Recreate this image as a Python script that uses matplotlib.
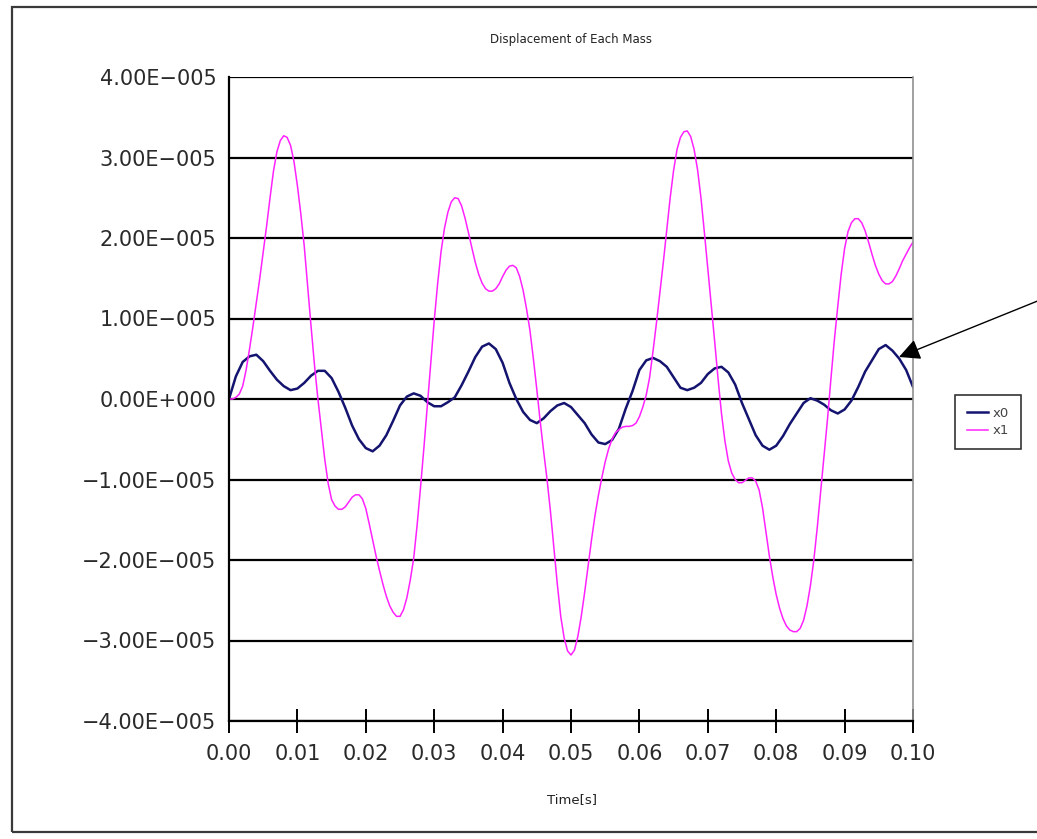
import numpy as np
import matplotlib
matplotlib.use("Agg")
import matplotlib.pyplot as plt
from matplotlib.patches import Rectangle

# displacement values in units of 1e-5 m
t0 = np.linspace(0, 0.1, 101)
x0 = [0.00, 0.28, 0.46, 0.53, 0.55, 0.47, 0.35, 0.24, 0.16, 0.11,
      0.13, 0.20, 0.29, 0.35, 0.35, 0.26, 0.09, -0.11, -0.33, -0.50,
      -0.61, -0.65, -0.58, -0.45, -0.27, -0.08, 0.03, 0.07, 0.04, -0.04,
      -0.09, -0.09, -0.04, 0.02, 0.17, 0.34, 0.52, 0.65, 0.69, 0.62,
      0.45, 0.20, 0.00, -0.16, -0.26, -0.30, -0.24, -0.15, -0.08, -0.05,
      -0.10, -0.20, -0.30, -0.44, -0.54, -0.56, -0.51, -0.37, -0.12, 0.10,
      0.36, 0.48, 0.51, 0.47, 0.40, 0.27, 0.14, 0.11, 0.14, 0.20,
      0.31, 0.38, 0.40, 0.33, 0.18, -0.05, -0.25, -0.45, -0.58, -0.63,
      -0.58, -0.46, -0.31, -0.18, -0.05, 0.01, -0.02, -0.07, -0.14, -0.18,
      -0.13, -0.02, 0.15, 0.34, 0.48, 0.62, 0.67, 0.60, 0.50, 0.36,
      0.15]

t1 = np.linspace(0, 0.1, 201)
x1 = [0.00, 0.00, 0.02, 0.06, 0.16, 0.36, 0.62, 0.90, 1.20, 1.50,
      1.82, 2.15, 2.50, 2.83, 3.07, 3.21, 3.27, 3.25, 3.15, 2.95,
      2.65, 2.30, 1.90, 1.40, 0.90, 0.42, 0.00, -0.38, -0.75, -1.05,
      -1.25, -1.33, -1.37, -1.37, -1.34, -1.28, -1.22, -1.19, -1.19, -1.24,
      -1.36, -1.55, -1.75, -1.95, -2.13, -2.30, -2.45, -2.57, -2.65, -2.70,
      -2.70, -2.62, -2.47, -2.25, -1.98, -1.57, -1.10, -0.60, -0.08, 0.45,
      0.97, 1.43, 1.83, 2.12, 2.32, 2.45, 2.50, 2.49, 2.40, 2.25,
      2.07, 1.88, 1.70, 1.55, 1.44, 1.37, 1.34, 1.34, 1.37, 1.43,
      1.52, 1.60, 1.65, 1.66, 1.63, 1.52, 1.35, 1.12, 0.85, 0.50,
      0.12, -0.28, -0.65, -1.00, -1.40, -1.85, -2.30, -2.70, -2.97, -3.13,
      -3.18, -3.12, -2.95, -2.70, -2.40, -2.07, -1.75, -1.45, -1.20, -0.98,
      -0.78, -0.62, -0.50, -0.42, -0.38, -0.35, -0.34, -0.34, -0.33, -0.30,
      -0.22, -0.10, 0.05, 0.27, 0.60, 0.95, 1.32, 1.70, 2.10, 2.50,
      2.84, 3.10, 3.25, 3.32, 3.33, 3.26, 3.10, 2.85, 2.50, 2.07,
      1.62, 1.17, 0.72, 0.25, -0.18, -0.52, -0.77, -0.92, -1.00, -1.04,
      -1.04, -1.01, -0.98, -0.98, -1.02, -1.13, -1.35, -1.65, -1.95, -2.21,
      -2.43, -2.60, -2.73, -2.82, -2.87, -2.89, -2.89, -2.85, -2.75, -2.57,
      -2.32, -2.00, -1.60, -1.15, -0.70, -0.25, 0.25, 0.73, 1.15, 1.55,
      1.87, 2.08, 2.19, 2.24, 2.24, 2.19, 2.09, 1.95, 1.80, 1.66,
      1.55, 1.47, 1.43, 1.43, 1.46, 1.53, 1.62, 1.72, 1.80, 1.88,
      1.95]

yticks = [-4e-5, -3e-5, -2e-5, -1e-5, 0, 1e-5, 2e-5, 3e-5, 4e-5]
ytick_labels = ["\u22124.00E\u2212005", "\u22123.00E\u2212005", "\u22122.00E\u2212005",
                "\u22121.00E\u2212005", "0.00E+000", "1.00E\u2212005", "2.00E\u2212005",
                "3.00E\u2212005", "4.00E\u2212005"]
xticks = [0.00, 0.01, 0.02, 0.03, 0.04, 0.05, 0.06, 0.07, 0.08, 0.09, 0.10]
xtick_labels = ["0.00", "0.01", "0.02", "0.03", "0.04", "0.05",
                "0.06", "0.07", "0.08", "0.09", "0.10"]

W, H = 1037, 839
fig = plt.figure(figsize=(W / 100, H / 100), dpi=100)
plt.rcParams['font.family'] = ['DejaVu Sans']

# outer chart frame
fig.patches.append(Rectangle((12 / W, 1 - 832 / H), (1050 - 12) / W, (832 - 7) / H,
                             transform=fig.transFigure, fill=False,
                             lw=1.6, ec='#3a3a3a'))

ax = fig.add_axes([229 / W, 1 - 721 / H, 684 / W, 644 / H])
ax.plot(t0, np.array(x0) * 1e-5, color='#141470', lw=1.8, label='x0')
ax.plot(t1, np.array(x1) * 1e-5, color='#ff22ff', lw=1.1, label='x1')

ax.set_xlim(0, 0.1)
ax.set_ylim(-4e-5, 4e-5)
ax.set_yticks(yticks)
ax.set_yticklabels(ytick_labels)
ax.set_xticks(xticks)
ax.set_xticklabels(xtick_labels)
ax.grid(axis='y', color='black', lw=1.6)
ax.tick_params(axis='y', length=0, pad=9, labelsize=15, labelcolor='#2a2a2a')
ax.tick_params(axis='x', direction='inout', length=17, width=1.4,
               pad=8, labelsize=15, labelcolor='#2a2a2a')
for side in ['left', 'bottom']:
    ax.spines[side].set_linewidth(1.6)
ax.spines['top'].set_visible(False)
ax.spines['right'].set_color('#909090')
ax.spines['right'].set_linewidth(1.2)

fig.text(571 / W, 1 - 40 / H, 'Displacement of Each Mass', ha='center',
         va='center', fontsize=8.5, color='#222222')
fig.text(572 / W, 1 - 800 / H, 'Time[s]', ha='center', va='center',
         fontsize=9.5, color='#222222')

leg = ax.legend(loc='center', bbox_to_anchor=(988 / W, 1 - 422 / H),
                bbox_transform=fig.transFigure, fontsize=9.5, frameon=True,
                fancybox=False, edgecolor='black', handlelength=1.6,
                handletextpad=0.3, borderpad=0.9, labelspacing=0.35)
leg.get_frame().set_linewidth(1.2)
for txt in leg.get_texts():
    txt.set_color('#444444')

# pointer arrow from outside the chart to the x0 peak
ax.annotate('', xy=(899 / W, 1 - 357 / H), xycoords='figure fraction',
            xytext=(1045 / W, 1 - 298 / H), textcoords='figure fraction',
            arrowprops=dict(arrowstyle='-|>', mutation_scale=32, lw=1.0,
                            color='black', shrinkA=0, shrinkB=0),
            annotation_clip=False)

fig.savefig('out.png', dpi=100)
